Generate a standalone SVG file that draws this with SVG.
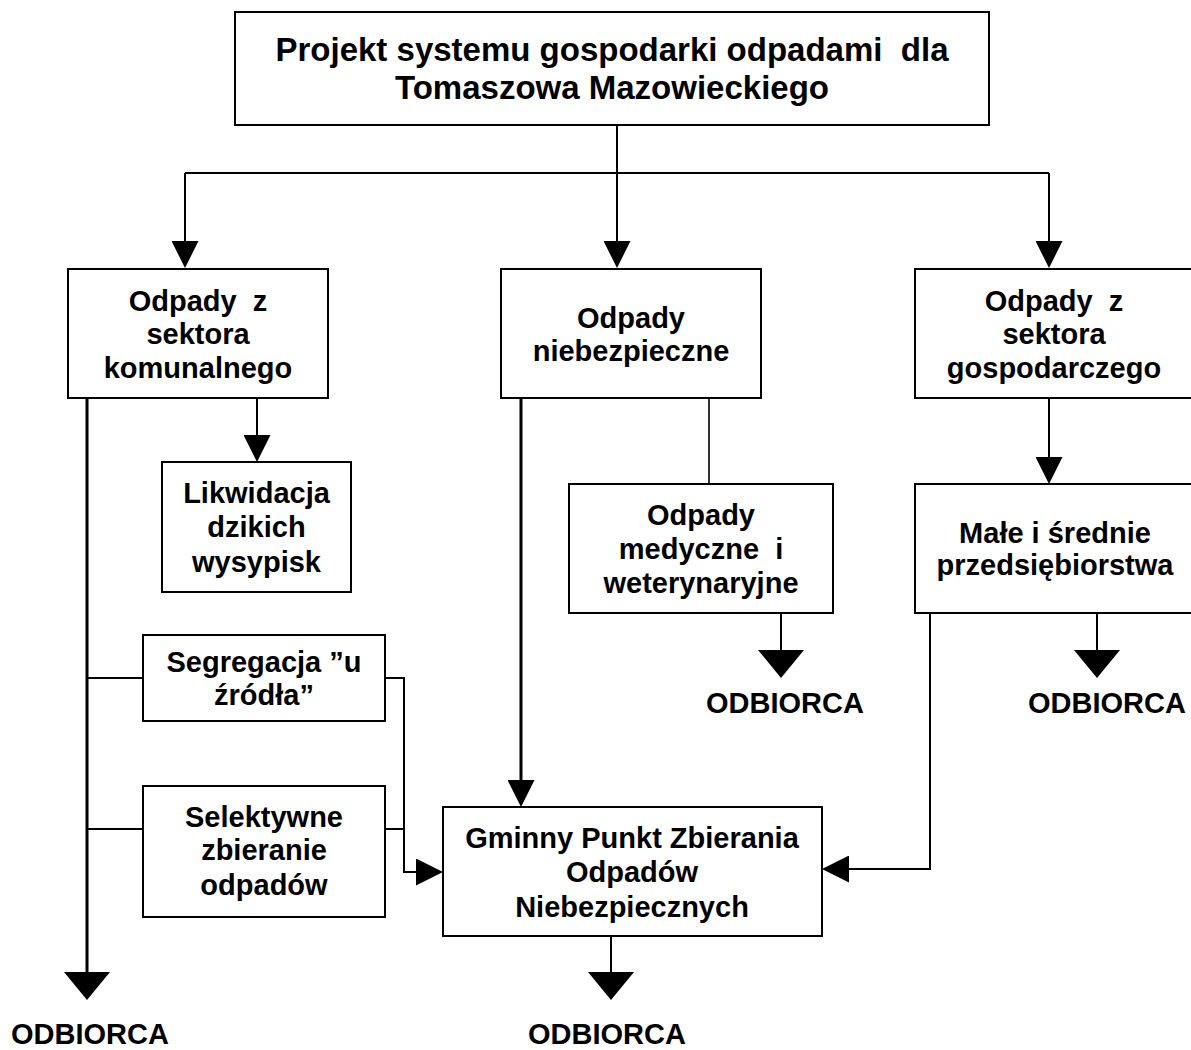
<svg xmlns="http://www.w3.org/2000/svg" width="1191" height="1050" viewBox="0 0 1191 1050">
<style>
.box{fill:#fff;stroke:#000;stroke-width:2}
.t{font-family:"Liberation Sans",Arial,sans-serif;font-weight:bold;font-size:29px;text-anchor:middle;fill:#000;white-space:pre}
.title{font-size:33px}
.c{fill:none;stroke:#000;stroke-width:2}
.thick{stroke-width:3}
.thin{stroke-width:1.6}
</style>
<defs>
<marker id="sa" markerUnits="userSpaceOnUse" viewBox="0 0 27 27" markerWidth="27" markerHeight="27" refX="17" refY="13.5" orient="auto">
<path d="M0,0 L27,13.5 L0,27 Z" fill="#000"/>
</marker>
<marker id="ba" markerUnits="userSpaceOnUse" viewBox="0 0 28 46" markerWidth="28" markerHeight="46" refX="18" refY="23" orient="auto">
<path d="M0,0 L28,23 L0,46 Z" fill="#000"/>
</marker>
</defs>
<rect width="1191" height="1050" fill="#fff"/>
<g id="connectors">
<path class="c" d="M617,125 V258" marker-end="url(#sa)"/>
<path class="c" d="M185,173 H1049"/>
<path class="c" d="M185,173 V258" marker-end="url(#sa)"/>
<path class="c" d="M1049,173 V258" marker-end="url(#sa)"/>
<path class="c thick" d="M87,398 V990" marker-end="url(#ba)"/>
<path class="c" d="M257,398 V452" marker-end="url(#sa)"/>
<path class="c" d="M87,678 H143"/>
<path class="c" d="M385,678 H404 V872 H433" marker-end="url(#sa)"/>
<path class="c" d="M87,829 H143"/>
<path class="c" d="M385,829 H404"/>
<path class="c thick" d="M521,398 V797" marker-end="url(#sa)"/>
<path class="c thin" d="M709,398 V484"/>
<path class="c" d="M781,613 V668" marker-end="url(#ba)"/>
<path class="c" d="M1049,398 V474" marker-end="url(#sa)"/>
<path class="c" d="M1097,613 V668" marker-end="url(#ba)"/>
<path class="c" d="M930,613 V869 H832" marker-end="url(#sa)"/>
<path class="c" d="M611,936 V990" marker-end="url(#ba)"/>
</g>
<g id="n-top">
<rect class="box" x="235" y="12" width="754" height="113"/>
<text class="t title" x="612" y="61">Projekt systemu gospodarki odpadami  dla</text>
<text class="t title" x="612" y="99">Tomaszowa Mazowieckiego</text>
</g>
<g id="n-komunalny">
<rect class="box" x="68" y="269" width="260" height="129"/>
<text class="t" x="198" y="311">Odpady  z</text>
<text class="t" x="198" y="344">sektora</text>
<text class="t" x="198" y="378">komunalnego</text>
</g>
<g id="n-niebezpieczne">
<rect class="box" x="501" y="269" width="260" height="129"/>
<text class="t" x="631" y="328">Odpady</text>
<text class="t" x="631" y="361">niebezpieczne</text>
</g>
<g id="n-gospodarczy">
<rect class="box" x="915" y="269" width="285" height="129"/>
<text class="t" x="1054" y="311">Odpady  z</text>
<text class="t" x="1054" y="344">sektora</text>
<text class="t" x="1054" y="378">gospodarczego</text>
</g>
<g id="n-likwidacja">
<rect class="box" x="162" y="462" width="189" height="130"/>
<text class="t" x="256.5" y="503">Likwidacja</text>
<text class="t" x="256.5" y="537">dzikich</text>
<text class="t" x="256.5" y="572">wysypisk</text>
</g>
<g id="n-medyczne">
<rect class="box" x="569" y="484" width="264" height="129"/>
<text class="t" x="701" y="525">Odpady</text>
<text class="t" x="701" y="559">medyczne  i</text>
<text class="t" x="701" y="593">weterynaryjne</text>
</g>
<g id="n-male">
<rect class="box" x="915" y="484" width="285" height="129"/>
<text class="t" x="1055" y="543">Małe i średnie</text>
<text class="t" x="1055" y="575">przedsiębiorstwa</text>
</g>
<g id="n-segregacja">
<rect class="box" x="143" y="635" width="242" height="86"/>
<text class="t" x="264" y="672">Segregacja ”u</text>
<text class="t" x="264" y="705">źródła”</text>
</g>
<g id="n-selektywne">
<rect class="box" x="143" y="786" width="242" height="131"/>
<text class="t" x="264" y="827">Selektywne</text>
<text class="t" x="264" y="860">zbieranie</text>
<text class="t" x="264" y="895">odpadów</text>
</g>
<g id="n-gminny">
<rect class="box" x="443" y="807" width="379" height="129"/>
<text class="t" x="632" y="848">Gminny Punkt Zbierania</text>
<text class="t" x="632" y="882">Odpadów</text>
<text class="t" x="632" y="917">Niebezpiecznych</text>
</g>
<g id="n-odbiorca1">
<text class="t" x="785" y="713">ODBIORCA</text>
</g>
<g id="n-odbiorca2">
<text class="t" x="1107" y="713">ODBIORCA</text>
</g>
<g id="n-odbiorca3">
<text class="t" x="90" y="1044">ODBIORCA</text>
</g>
<g id="n-odbiorca4">
<text class="t" x="607" y="1044">ODBIORCA</text>
</g>
</svg>
